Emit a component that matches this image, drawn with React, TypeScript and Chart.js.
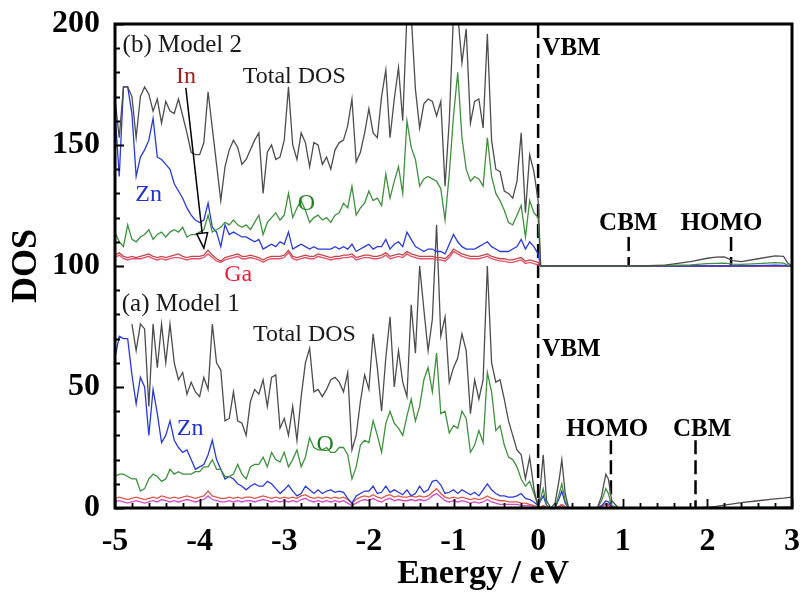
import { useEffect, useRef } from "react";
import { Chart, registerables } from "chart.js";

Chart.register(...registerables);

const SERIF = "'Liberation Serif', 'Times New Roman', serif";

// Energy grid of the valence region (eV)
const ENERGY = [
  -5.0, -4.95, -4.9, -4.85, -4.8, -4.75, -4.7, -4.65, -4.6, -4.55,
  -4.5, -4.45, -4.4, -4.35, -4.3, -4.25, -4.2, -4.15, -4.1, -4.05,
  -4.0, -3.95, -3.9, -3.85, -3.8, -3.75, -3.7, -3.65, -3.6, -3.55,
  -3.5, -3.45, -3.4, -3.35, -3.3, -3.25, -3.2, -3.15, -3.1, -3.05,
  -3.0, -2.95, -2.9, -2.85, -2.8, -2.75, -2.7, -2.65, -2.6, -2.55,
  -2.5, -2.45, -2.4, -2.35, -2.3, -2.25, -2.2, -2.15, -2.1, -2.05,
  -2.0, -1.95, -1.9, -1.85, -1.8, -1.75, -1.7, -1.65, -1.6, -1.55,
  -1.5, -1.45, -1.4, -1.35, -1.3, -1.25, -1.2, -1.15, -1.1, -1.05,
  -1.0, -0.95, -0.9, -0.85, -0.8, -0.75, -0.7, -0.65, -0.6, -0.55,
  -0.5, -0.45, -0.4, -0.35, -0.3, -0.25, -0.2, -0.15, -0.1, -0.05,
  0.0,
];

// Energy points above the valence band maximum (eV)
const ENERGY_CB = [
  0.03, 0.06, 0.1, 0.15, 0.2, 0.25, 0.28, 0.32, 0.36, 0.5,
  0.7, 0.75, 0.8, 0.83, 0.87, 0.95, 1.2, 1.5, 1.8, 2.0,
  2.1, 2.2, 2.3, 2.4, 2.6, 2.8, 2.9, 2.95, 3.0,
];

// ---- Model 2 (drawn shifted up by MODEL2_OFFSET) ----
const M2_TOTAL = [
  69, 53, 74, 74, 70, 53, 70, 74, 71, 64,
  69, 59, 68, 64, 63, 69, 62, 55, 47, 46,
  46, 51, 72, 57, 42, 27, 41, 48, 52, 49,
  42, 44, 48, 52, 55, 30, 47, 50, 44, 45,
  52, 74, 50, 44, 55, 51, 41, 51, 50, 42,
  45, 40, 48, 51, 52, 58, 69, 43, 47, 55,
  65, 55, 53, 70, 81, 53, 69, 82, 60, 104,
  104, 73, 57, 67, 69, 68, 62, 68, 33, 60,
  104, 104, 84, 98, 59, 68, 69, 57, 96, 52,
  40, 39, 31, 30, 28, 35, 55, 22, 46, 39,
  27,
];
const M2_O = [
  14, 10, 8, 17, 11, 10, 12, 13, 15, 11,
  13, 14, 12, 14, 15, 14, 16, 12, 13, 13,
  14, 15, 21, 14, 15, 16, 18, 17, 19, 17,
  16, 17, 15, 18, 21, 13, 18, 20, 22, 19,
  21, 30, 20, 24, 27, 23, 18, 20, 21, 19,
  20, 18, 21, 22, 26, 24, 33, 21, 24, 26,
  31, 27, 28, 25, 38, 28, 35, 41, 30, 60,
  49, 44, 33, 36, 37, 36, 35, 32, 19, 38,
  62, 80, 53, 40, 35, 37, 36, 33, 53, 37,
  30, 27, 23, 18, 17, 21, 25, 12, 27, 22,
  20,
];
const M2_ZN = [
  64, 37, 74, 74, 63, 37, 45, 48, 52, 61,
  45, 44, 42, 40, 34, 31, 28, 24, 21, 19,
  18, 19, 26, 16, 14, 8, 17, 13, 14, 13,
  12, 12, 11, 10, 11, 7, 8, 9, 8, 10,
  9, 14, 7, 8, 9, 8, 7, 8, 7, 7,
  7, 7, 8, 7, 8, 7, 9, 6, 7, 8,
  9, 7, 8, 8, 11, 7, 9, 10, 8, 14,
  11, 8, 7, 6, 7, 7, 6, 6, 5, 9,
  13, 10, 8, 7, 7, 7, 8, 9, 10, 8,
  7, 6, 6, 6, 7, 8, 11, 7, 10, 8,
  5,
];
const M2_IN = [
  4.5, 5.5, 4, 3.5, 4, 3.5, 4, 4.5, 5, 4,
  3.5, 4, 3.5, 4, 4.5, 5, 4, 3.5, 4, 4,
  4, 4.5, 6.5, 4.5, 3, 2, 3.5, 4, 4.5, 5,
  4, 4, 4.5, 4, 3.5, 2.5, 3.5, 4, 4, 4,
  4.5, 6.5, 4, 3.5, 4, 4.5, 4, 4, 5, 4.5,
  4, 3.5, 4, 4, 4.5, 4.5, 5, 3.5, 4, 4.5,
  4.5, 4, 4, 4.5, 5.5, 4, 4.5, 5, 4.5, 6,
  5, 4.5, 4, 4, 4, 4, 3.5, 3.5, 3, 4.5,
  7, 6, 5, 4.5, 4, 4, 4, 4.5, 5, 4,
  3.5, 3, 3, 2.5, 2.5, 3, 3.5, 2, 2.5, 2,
  1.5,
];
const M2_GA = [
  3.5, 4.5, 3, 2.5, 3, 3, 3, 3.5, 4, 3,
  2.5, 3, 2.5, 3, 3.5, 3.5, 3, 2.5, 3, 3,
  3, 3.5, 5, 3.5, 2, 1.5, 2.5, 3, 3.5, 4,
  3, 3, 3.5, 3, 2.5, 1.5, 2.5, 3, 3, 3,
  3.5, 5.5, 3, 2.5, 3, 3.5, 3, 3, 4, 3.5,
  3, 2.5, 3, 3, 3.5, 3.5, 4, 2.5, 3, 3.5,
  3.5, 3, 3, 3.5, 4.5, 3, 3.5, 4, 3.5, 5,
  4, 3.5, 3, 3, 3, 3, 2.5, 2.5, 2, 3.5,
  6, 5, 4, 3.5, 3, 3, 3, 3.5, 4, 3,
  2.5, 2, 2, 1.5, 1.5, 2, 2.5, 1, 1.5, 1,
  0.5,
];
const M2_TOTAL_CB = [
  0, 0, 0, 0, 0, 0, 0, 0, 0, 0,
  0, 0, 0, 0, 0, 0, 0, 0.4, 1.8, 3.2,
  3.7, 3.8, 2.2, 1.8, 3.0, 4.2, 4.0, 1.2, 0,
];
const M2_O_CB = [
  0, 0, 0, 0, 0, 0, 0, 0, 0, 0,
  0, 0, 0, 0, 0, 0, 0, 0.2, 0.5, 1.0,
  1.1, 1.2, 0.8, 0.7, 1.0, 1.4, 1.2, 0.4, 0,
];
const M2_ZN_CB = [
  0, 0, 0, 0, 0, 0, 0, 0, 0, 0,
  0, 0, 0, 0, 0, 0, 0, 0, 0, 0,
  0, 0, 0, 0, 0.1, 0.3, 0.2, 0, 0,
];
const M2_IN_CB = [
  0, 0, 0, 0, 0, 0, 0, 0, 0, 0,
  0, 0, 0, 0, 0, 0, 0, 0, 0, 0,
  0, 0, 0, 0, 0, 0, 0, 0, 0,
];
const M2_GA_CB = [
  0, 0, 0, 0, 0, 0, 0, 0, 0, 0,
  0, 0, 0, 0, 0, 0, 0, 0, 0, 0,
  0, 0, 0, 0, 0, 0, 0, 0, 0,
];

// ---- Model 1 ----
const M1_TOTAL: (number | null)[] = [
  null, null, null, null, 76, 65, 76, 74, 42, 76,
  58, 76, 60, 76, 60, 53, 56, 47, 52, 48,
  46, 54, 49, 76, 60, 57, 36, 37, 48, 36,
  35, 30, 44, 49, 47, 53, 42, 54, 55, 33,
  37, 30, 42, 28, 46, 60, 66, 48, 49, 46,
  49, 53, 54, 52, 48, 56, 24, 30, 44, 55,
  49, 72, 58, 40, 62, 79, 50, 65, 52, 46,
  84, 64, 100, 82, 65, 78, 117, 71, 79, 52,
  58, 62, 72, 65, 39, 53, 45, 53, 100, 60,
  52, 53, 45, 36, 30, 24, 22, 12, 21, 8,
  0,
];
const M1_O = [
  13, 14, 14, 13, 12, 12, 7, 8, 12, 14,
  13, 11, 12, 16, 14, 15, 14, 14, 14, 15,
  15, 17, 17, 20, 16, 16, 13, 13, 14, 18,
  14, 12, 17, 18, 18, 21, 17, 23, 20, 19,
  23, 17, 20, 24, 17, 21, 29, 25, 24, 24,
  25, 23, 23, 25, 25, 22, 12, 17, 26, 28,
  27, 36, 30, 23, 35, 40, 35, 33, 30, 38,
  45, 36, 42, 53, 58, 48, 64, 39, 40, 31,
  34, 33, 40, 37, 23, 26, 32, 27, 56, 48,
  32, 34, 26, 21, 20, 17, 12, 9, 11, 6,
  1,
];
const M1_ZN = [
  62, 71, 70, 70, 55, 43, 54, 50, 30, 49,
  39, 27, 30, 36, 28, 25, 23, 24, 20, 16,
  17, 18, 22, 28, 20, 16, 12, 13, 12, 10,
  9, 7.5, 9, 10, 9, 9, 11, 10, 8, 6,
  7.5, 9.5, 7, 5, 6, 9, 7.5, 6, 7.5, 6,
  7, 7.5, 6.5, 7, 6.5, 4, 2, 5, 6, 7,
  7, 9, 6, 6.5, 9, 6.5, 7.5, 6.5, 5.5, 7.5,
  5, 6, 9, 6.5, 7.5, 11, 11.5, 9.5, 6, 6.5,
  7.5, 6, 7.5, 6.5, 5.5, 6.5, 5, 7.5, 10, 7.5,
  6, 5, 5, 4.5, 4.5, 5, 6, 4, 3.5, 2.5,
  1,
];
const M1_IN = [
  4, 4.5, 4, 3.5, 4, 4.5, 4, 3.5, 4, 4.5,
  4, 5, 4.5, 4, 4.5, 4, 4.5, 5, 4.5, 4,
  4.5, 5, 7, 5, 4.5, 4, 4, 4.5, 4, 4.5,
  4, 4.5, 4.5, 4, 4.5, 5, 4.5, 4, 4.5, 4,
  4.5, 4, 4.5, 4, 5, 5.5, 4.5, 4, 4.5, 4,
  4.5, 4, 4.5, 4, 4.5, 3.5, 2, 3.5, 4.5, 5,
  4.5, 5.5, 4.5, 4, 5, 5.5, 4.5, 5, 4.5, 4.5,
  5, 4.5, 5, 4.5, 5, 6.5, 8, 6, 4.5, 4,
  4.5, 4, 4.5, 4, 3.5, 4, 3.5, 4, 5, 4,
  3.5, 3, 3, 2.5, 2.5, 2.5, 2, 2, 1.5, 1,
  0.5,
];
const M1_GA = [
  2.5, 3, 2.5, 2, 2.5, 3, 2.5, 2, 2.5, 3,
  2.5, 3.5, 3, 2.5, 3, 2.5, 3, 3.5, 3, 2.5,
  3, 3.5, 5, 3.5, 3, 2.5, 2.5, 3, 2.5, 3,
  2.5, 3, 3, 2.5, 3, 3.5, 3, 2.5, 3, 2.5,
  3, 2.5, 3, 2.5, 3.5, 4, 3, 2.5, 3, 2.5,
  3, 2.5, 3, 2.5, 3, 2, 1, 2, 3, 3.5,
  3, 4, 3, 2.5, 3.5, 4, 3, 3.5, 3, 3,
  3.5, 3, 3.5, 3, 3.5, 5, 6, 4.5, 3, 2.5,
  3, 2.5, 3, 2.5, 2, 2.5, 2, 2.5, 3.5, 2.5,
  2, 1.5, 1.5, 1.5, 1.5, 1.5, 1, 1, 1, 0.5,
  0.2,
];
const M1_TOTAL_CB = [
  10, 22, 3, 0, 2, 12, 20, 6, 0, 0,
  0, 5, 14, 12, 3, 0, 0, 0, 0, 0.3,
  0.7, 1.2, 1.7, 2.2, 3.0, 3.8, 4.1, 4.3, 4.5,
];
const M1_O_CB = [
  4, 8, 1, 0, 0, 6, 10, 3, 0, 0,
  0, 3, 8, 6, 1, 0, 0, 0, 0, 0,
  0, 0, 0.1, 0.2, 0.3, 0.4, 0.5, 0.5, 0.5,
];
const M1_ZN_CB = [
  3, 5, 1, 0, 0, 4, 7, 2, 0, 0,
  0, 1, 3, 2.5, 0.5, 0, 0, 0, 0, 0,
  0, 0, 0, 0, 0, 0, 0, 0, 0,
];
const M1_IN_CB = [
  0.5, 1, 0.3, 0, 0, 0.8, 1.5, 0.5, 0, 0,
  0, 0.8, 2, 1.5, 0.3, 0, 0, 0, 0, 0,
  0, 0, 0, 0, 0, 0, 0, 0, 0,
];
const M1_GA_CB = [
  0.3, 0.8, 0.2, 0, 0, 0.5, 1, 0.3, 0, 0,
  0, 0.5, 1.5, 1, 0.2, 0, 0, 0, 0, 0,
  0, 0, 0, 0, 0, 0, 0, 0, 0,
];

// Band-edge markers (eV)
const VBM_ENERGY = 0;
const M2_CBM = 1.07;
const M2_HOMO = 2.28;
const M1_HOMO = 0.86;
const M1_CBM = 1.86;

const MODEL2_OFFSET = 100;

const Y_TICKS = [0, 50, 100, 150, 200];
const X_TICKS = [-5, -4, -3, -2, -1, 0, 1, 2, 3];

const COLORS = {
  total: "#4d4d4d",
  o: "#3f913f",
  zn: "#2a3ad8",
  in2: "#c0484a",
  ga2: "#e8506c",
  in1: "#d8584c",
  ga1: "#d44cc8",
};

type Pt = { x: number; y: number | null };

function curve(vb: (number | null)[], cb: number[], offset: number): Pt[] {
  const a = ENERGY.map((x, i) => ({ x, y: vb[i] === null ? null : (vb[i] as number) + offset }));
  const b = ENERGY_CB.map((x, i) => ({ x, y: cb[i] + offset }));
  return [...a, ...b];
}

function series(label: string, data: Pt[], color: string) {
  return {
    label,
    data,
    borderColor: color,
    borderWidth: 1.3,
    pointRadius: 0,
    fill: false,
    tension: 0,
    spanGaps: false,
  };
}

function marker(label: string, e: number, from: number, to: number) {
  return {
    label,
    data: [
      { x: e, y: from },
      { x: e, y: to },
    ],
    borderColor: "#000",
    borderWidth: 2.5,
    borderDash: [14, 6],
    pointRadius: 0,
    fill: false,
  };
}

type Note = {
  text: string;
  e: number;
  dos: number;
  color: string;
  size: number;
  bold?: boolean;
  align: CanvasTextAlign;
};

const NOTES: Note[] = [
  { text: "(b) Model 2", e: -4.91, dos: 191.3, color: "#1a1a1a", size: 25, align: "left" },
  { text: "In", e: -4.16, dos: 178.3, color: "#9c2222", size: 24, align: "center" },
  { text: "Total DOS", e: -3.49, dos: 178.3, color: "#1a1a1a", size: 24, align: "left" },
  { text: "Zn", e: -4.76, dos: 129.3, color: "#2233c8", size: 24, align: "left" },
  { text: "O", e: -2.84, dos: 125.8, color: "#1f7f1f", size: 24, align: "left" },
  { text: "Ga", e: -3.71, dos: 96.3, color: "#e8203c", size: 24, align: "left" },
  { text: "(a) Model 1", e: -4.92, dos: 84.3, color: "#1a1a1a", size: 25, align: "left" },
  { text: "Total DOS", e: -3.37, dos: 71.5, color: "#1a1a1a", size: 24, align: "left" },
  { text: "Zn", e: -4.27, dos: 32.9, color: "#2233c8", size: 24, align: "left" },
  { text: "O", e: -2.62, dos: 26.2, color: "#1f7f1f", size: 24, align: "left" },
  { text: "VBM", e: 0.05, dos: 190, color: "#000", size: 25, bold: true, align: "left" },
  { text: "VBM", e: 0.05, dos: 65.3, color: "#000", size: 25, bold: true, align: "left" },
  { text: "CBM", e: 1.065, dos: 117.6, color: "#000", size: 25, bold: true, align: "center" },
  { text: "HOMO", e: 2.168, dos: 117.6, color: "#000", size: 25, bold: true, align: "center" },
  { text: "HOMO", e: 0.817, dos: 32.6, color: "#000", size: 25, bold: true, align: "center" },
  { text: "CBM", e: 1.938, dos: 32.6, color: "#000", size: 25, bold: true, align: "center" },
];

// Arrow pointing from the "In" label down to the In curve
const IN_ARROW = { fromE: -4.163, fromDos: 173.6, toE: -3.95, toDos: 107.4 };

const framePlugin = {
  id: "frameAndInnerTicks",
  afterDatasetsDraw(chart: any) {
    const { ctx, chartArea: a, scales } = chart;
    const xs = scales.x;
    const ys = scales.y;
    ctx.save();
    ctx.strokeStyle = "#000";
    ctx.lineWidth = 1.8;
    ctx.beginPath();
    for (let v = 0; v <= 200; v += 10) {
      const py = Math.round(ys.getPixelForValue(v)) + 0.5;
      const len = v % 50 === 0 ? 9 : 5;
      ctx.moveTo(a.left, py);
      ctx.lineTo(a.left + len, py);
    }
    for (let i = -25; i <= 15; i++) {
      const e = i / 5;
      const px = Math.round(xs.getPixelForValue(e)) + 0.5;
      const len = i % 5 === 0 ? 9 : 5;
      ctx.moveTo(px, a.bottom);
      ctx.lineTo(px, a.bottom - len);
    }
    ctx.stroke();
    ctx.lineWidth = 3;
    ctx.strokeRect(a.left, a.top, a.right - a.left, a.bottom - a.top);
    ctx.restore();
  },
};

const notesPlugin = {
  id: "notes",
  afterDraw(chart: any) {
    const { ctx, scales, chartArea: a } = chart;
    const xs = scales.x;
    const ys = scales.y;
    ctx.save();
    ctx.textBaseline = "middle";
    for (const n of NOTES) {
      ctx.font = `${n.bold ? "bold " : ""}${n.size}px ${SERIF}`;
      ctx.fillStyle = n.color;
      ctx.textAlign = n.align;
      ctx.fillText(n.text, xs.getPixelForValue(n.e), ys.getPixelForValue(n.dos));
    }

    // arrow with an open head
    const x1 = xs.getPixelForValue(IN_ARROW.fromE);
    const y1 = ys.getPixelForValue(IN_ARROW.fromDos);
    const x2 = xs.getPixelForValue(IN_ARROW.toE);
    const y2 = ys.getPixelForValue(IN_ARROW.toDos);
    const dx = x2 - x1;
    const dy = y2 - y1;
    const len = Math.hypot(dx, dy);
    const ux = dx / len;
    const uy = dy / len;
    const headLen = 15;
    const headHalf = 5.5;
    const bx = x2 - ux * headLen;
    const by = y2 - uy * headLen;
    ctx.strokeStyle = "#000";
    ctx.lineWidth = 1.5;
    ctx.beginPath();
    ctx.moveTo(x1, y1);
    ctx.lineTo(bx, by);
    ctx.stroke();
    ctx.beginPath();
    ctx.moveTo(x2, y2);
    ctx.lineTo(bx - uy * headHalf, by + ux * headHalf);
    ctx.lineTo(bx + uy * headHalf, by - ux * headHalf);
    ctx.closePath();
    ctx.fillStyle = "#fff";
    ctx.fill();
    ctx.stroke();

    // horizontal axis title
    ctx.font = `bold 34px ${SERIF}`;
    ctx.fillStyle = "#000";
    ctx.textAlign = "center";
    ctx.textBaseline = "middle";
    ctx.fillText("Energy / eV", xs.getPixelForValue(-0.65), a.bottom + 66);
    ctx.restore();
  },
};

export default function App() {
  const canvasRef = useRef<HTMLCanvasElement | null>(null);

  useEffect(() => {
    const canvas = canvasRef.current;
    if (!canvas) return;

    const datasets: any[] = [
      series("Model 2 Total DOS", curve(M2_TOTAL, M2_TOTAL_CB, MODEL2_OFFSET), COLORS.total),
      series("Model 2 O", curve(M2_O, M2_O_CB, MODEL2_OFFSET), COLORS.o),
      series("Model 2 Zn", curve(M2_ZN, M2_ZN_CB, MODEL2_OFFSET), COLORS.zn),
      series("Model 2 In", curve(M2_IN, M2_IN_CB, MODEL2_OFFSET), COLORS.in2),
      series("Model 2 Ga", curve(M2_GA, M2_GA_CB, MODEL2_OFFSET), COLORS.ga2),
      series("Model 1 Total DOS", curve(M1_TOTAL, M1_TOTAL_CB, 0), COLORS.total),
      series("Model 1 O", curve(M1_O, M1_O_CB, 0), COLORS.o),
      series("Model 1 Zn", curve(M1_ZN, M1_ZN_CB, 0), COLORS.zn),
      series("Model 1 In", curve(M1_IN, M1_IN_CB, 0), COLORS.in1),
      series("Model 1 Ga", curve(M1_GA, M1_GA_CB, 0), COLORS.ga1),
      marker("VBM", VBM_ENERGY, 200, 0),
      marker("Model 2 CBM", M2_CBM, MODEL2_OFFSET + 12, MODEL2_OFFSET),
      marker("Model 2 HOMO", M2_HOMO, MODEL2_OFFSET + 12, MODEL2_OFFSET),
      marker("Model 1 HOMO", M1_HOMO, 28, 0),
      marker("Model 1 CBM", M1_CBM, 28, 0),
    ];

    const tickFont = { family: SERIF, size: 32, weight: "bold" as const };

    const chart = new Chart(canvas, {
      type: "line",
      data: { datasets },
      options: {
        responsive: false,
        animation: false,
        events: [],
        layout: { padding: { top: 24, right: 12, left: 0, bottom: 0 } },
        plugins: {
          legend: { display: false },
          tooltip: { enabled: false },
        },
        scales: {
          x: {
            type: "linear",
            min: X_TICKS[0],
            max: X_TICKS[X_TICKS.length - 1],
            afterFit: (s: any) => {
              s.height = 91;
              s.paddingLeft = 0;
              s.paddingRight = 0;
            },
            afterBuildTicks: (s: any) => {
              s.ticks = X_TICKS.map((value) => ({ value }));
            },
            grid: { display: false, drawTicks: false },
            border: { display: false },
            ticks: {
              autoSkip: false,
              maxRotation: 0,
              padding: 15,
              color: "#000",
              font: tickFont,
              callback: (v: any) => String(v),
            },
          },
          y: {
            type: "linear",
            min: Y_TICKS[0],
            max: Y_TICKS[Y_TICKS.length - 1],
            afterFit: (s: any) => {
              s.width = 115;
              s.paddingTop = 0;
              s.paddingBottom = 0;
            },
            afterBuildTicks: (s: any) => {
              s.ticks = Y_TICKS.map((value) => ({ value }));
            },
            grid: { display: false, drawTicks: false },
            border: { display: false },
            ticks: {
              autoSkip: false,
              padding: 15,
              color: "#000",
              font: tickFont,
              callback: (v: any) => String(v),
            },
            title: {
              display: true,
              text: "DOS",
              color: "#000",
              font: { family: SERIF, size: 36, weight: "bold" },
              padding: { top: 5, bottom: 0 },
            },
          },
        },
      },
      plugins: [framePlugin, notesPlugin],
    });

    return () => chart.destroy();
  }, []);

  return (
    <div style={{ position: "absolute", left: 0, top: 0, width: 804, height: 599, background: "#fff" }}>
      <canvas ref={canvasRef} width={804} height={599} style={{ display: "block" }} />
    </div>
  );
}
